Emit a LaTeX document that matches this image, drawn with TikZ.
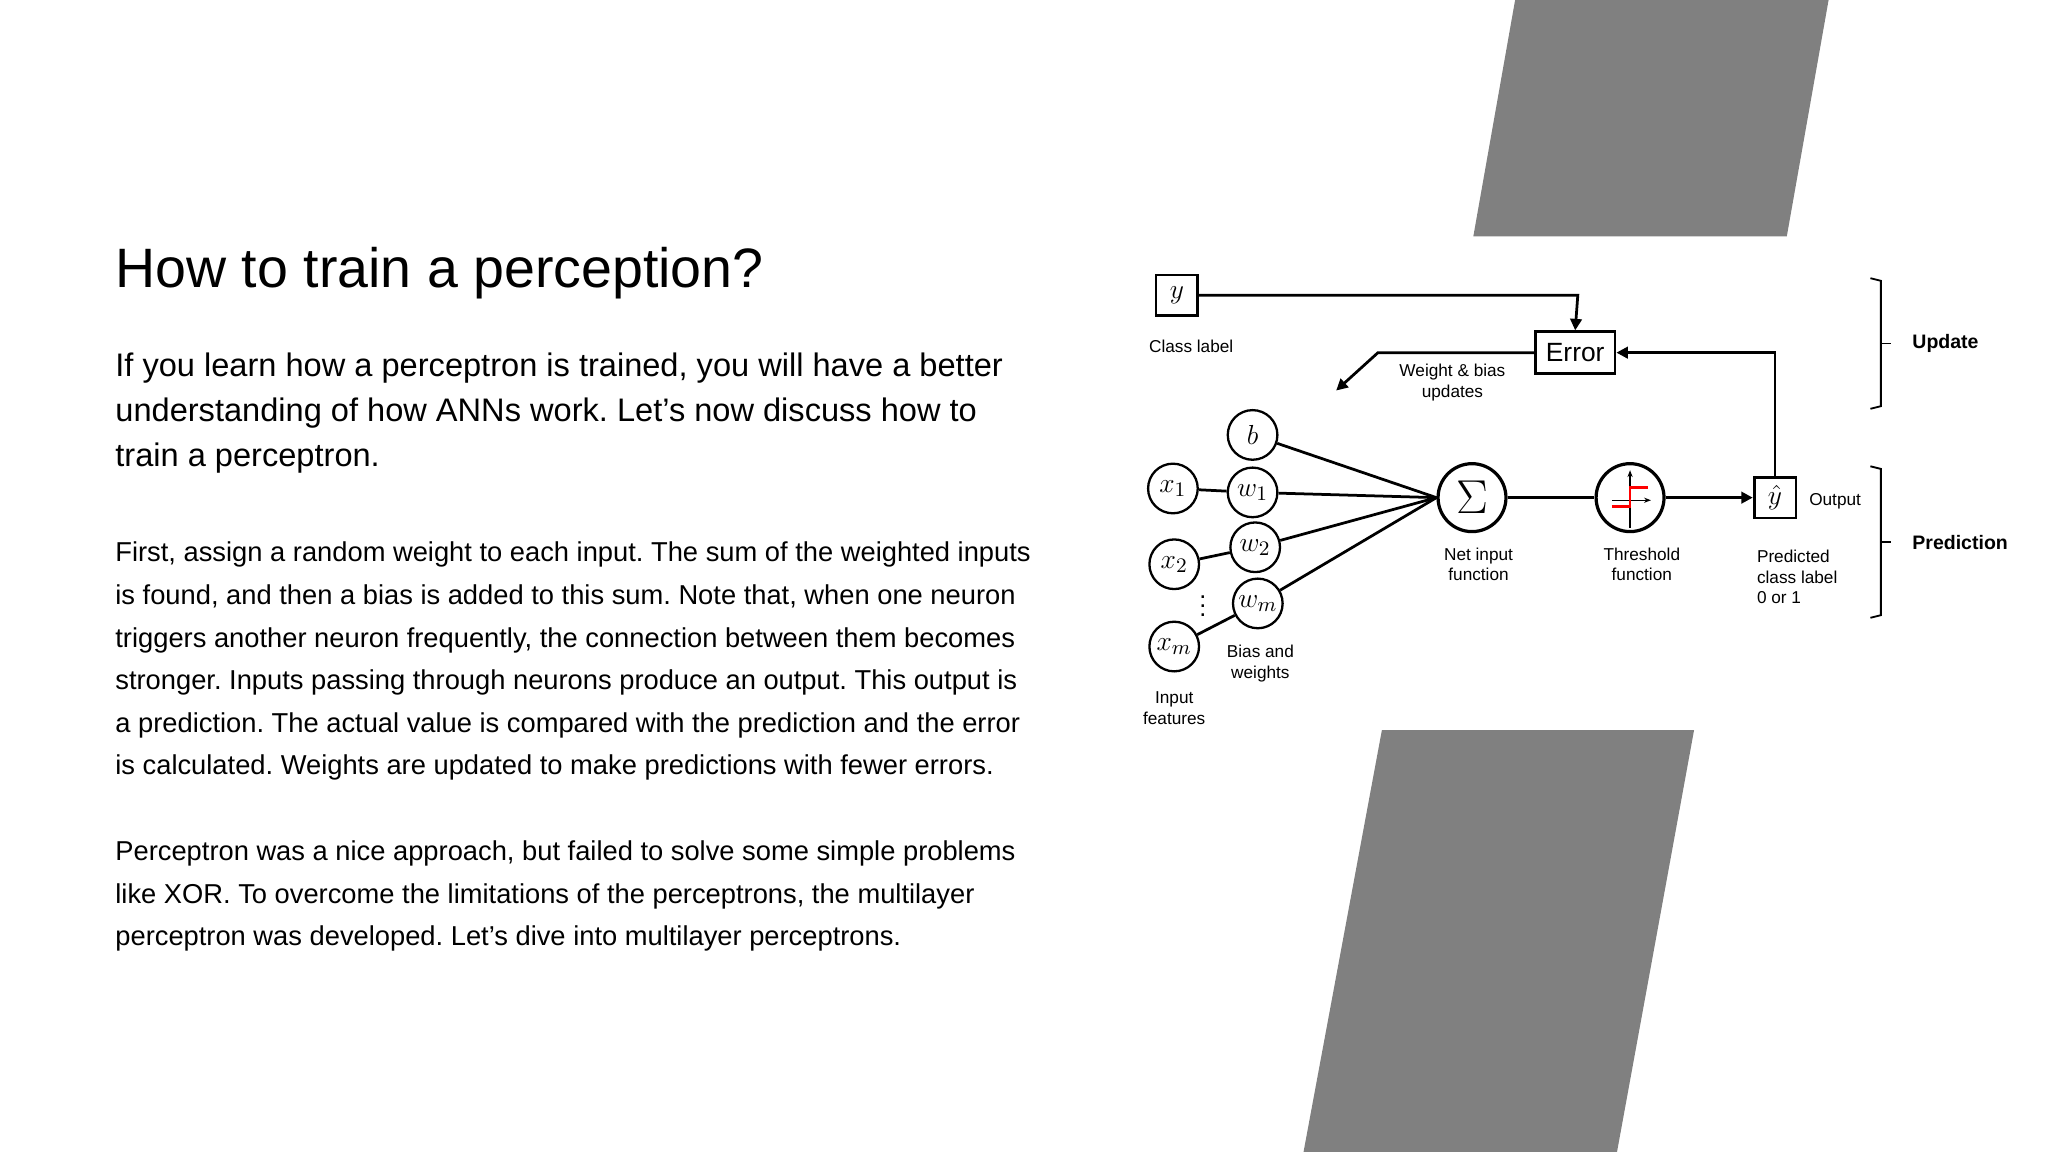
\documentclass[tikz,border=0pt]{standalone}
\usepackage{fontspec}
\setmainfont{Liberation Sans}
\frenchspacing
\usetikzlibrary{arrows.meta}
\begin{document}
\begin{tikzpicture}[x=0.02cm,y=-0.02cm,
  nd/.style={circle,draw,line width=1pt,minimum size=38*0.02cm,inner sep=0pt,font=\fontsize{13}{13}\selectfont},
  bx/.style={rectangle,draw,line width=1.2pt,inner sep=0pt},
  lab/.style={font=\fontsize{7.5}{9}\selectfont,align=center},
  ln/.style={line width=1.2pt},
  ar/.style={line width=1.2pt,-{Triangle[length=5pt,width=5pt]}},
  tx/.style={anchor=base west,inner sep=0pt},
  brc/.style={line width=0.8pt}]
\useasboundingbox (0,0) rectangle (1568,882);
\fill[fill=black!50] (1160,0) -- (1400,0) -- (1368,181) -- (1128,181) -- cycle;
\fill[fill=black!50] (1058,559) -- (1297,559) -- (1238,882) -- (998,882) -- cycle;
% text
\node[tx,font=\fontsize{24.2}{24}\selectfont] (title) at (88,220) {How to train a perception?};
\begin{scope}[every node/.style={tx,font=\fontsize{14.2}{14}\selectfont}]
\node (p1a) at (88,288) {If you learn how a perceptron is trained, you will have a better};
\node (p1b) at (88,323) {understanding of how ANNs work. Let’s now discuss how to};
\node (p1c) at (88,357) {train a perceptron.};
\end{scope}
\begin{scope}[every node/.style={tx,font=\fontsize{11.9}{12}\selectfont}]
\node (q1) at (88,430) {First, assign a random weight to each input. The sum of the weighted inputs};
\node (q2) at (88,463) {is found, and then a bias is added to this sum. Note that, when one neuron};
\node (q3) at (88,496) {triggers another neuron frequently, the connection between them becomes};
\node (q4) at (88,528) {stronger. Inputs passing through neurons produce an output. This output is};
\node (q5) at (88,561) {a prediction. The actual value is compared with the prediction and the error};
\node (q6) at (88,593) {is calculated. Weights are updated to make predictions with fewer errors.};
\node (r1) at (88,659) {Perceptron was a nice approach, but failed to solve some simple problems};
\node (r2) at (88,692) {like XOR. To overcome the limitations of the perceptrons, the multilayer};
\node (r3) at (88,724) {perceptron was developed. Let’s dive into multilayer perceptrons.};
\end{scope}
% diagram
\node[bx,minimum width=32*0.02cm,minimum height=31*0.02cm,font=\fontsize{13}{13}\selectfont] (y) at (901,226) {$y$};
\node[lab,anchor=north] (cl) at (912,254) {Class label};
\node[bx,minimum width=61*0.02cm,minimum height=32*0.02cm,font=\fontsize{11.5}{12}\selectfont] (err) at (1206,270) {Error};
\node[bx,minimum width=32*0.02cm,minimum height=31*0.02cm,font=\fontsize{13}{13}\selectfont] (yh) at (1359,381) {$\hat{y}$};
\node[lab,anchor=west] (out) at (1379,384) {Output};
\node[lab] (wb) at (1112,293) {Weight \& bias\\updates};
\coordinate (c1) at (1208,226);
\coordinate (c2) at (1359,270);
\coordinate (c3) at (1055,270);
\coordinate (c4) at (1023,299);
\draw[ar] (y.east) -- (c1) -- (err.north);
\draw[ar] (yh.north) -- (c2) -- (err.east);
\draw[ar] (err.west) -- (c3) -- (c4);
\node[nd] (b) at (959,333) {$b$};
\node[nd] (x1) at (898,374) {$x_1$};
\node[nd] (w1) at (959,377) {$w_1$};
\node[nd] (x2) at (899,432) {$x_2$};
\node[nd] (w2) at (961,419) {$w_2$};
\node[nd] (xm) at (899,495) {$x_m$};
\node[nd] (wm) at (963,462) {$w_m$};
\node[font=\fontsize{11}{11}\selectfont,inner sep=0pt] (dots) at (921,459) {$\vdots$};
\node[nd,minimum size=52*0.02cm,line width=1.4pt,font=\fontsize{20}{20}\selectfont] (sig) at (1127,381) {$\Sigma$};
\node[nd,minimum size=52*0.02cm,line width=1.4pt] (th) at (1248,381) {};
\draw[-{Stealth[length=3pt]},line width=0.5pt] (1248,404) -- (1248,360);
\draw[-{Stealth[length=3pt]},line width=0.5pt] (1234,383) -- (1264,383);
\draw[red,line width=1.2pt] (1234,388) -- (1248,388) -- (1248,373) -- (1262,373);
\foreach \a/\b in {x1/w1,x2/w2,xm/wm} \draw[ln] (\a) -- (\b);
\foreach \a in {b,w1,w2,wm} \draw[ln] (\a) -- (sig.west);
\draw[ln] (sig) -- (th);
\draw[ar] (th) -- (yh);
\node[lab] (ni) at (1132,432) {Net input\\function};
\node[lab] (tf) at (1257,432) {Threshold\\function};
\node[lab,align=left,anchor=north west] (pc) at (1339,415) {Predicted\\class label\\0 or 1};
\node[lab] (bw) at (965,508) {Bias and\\weights};
\node[lab] (inf) at (899,542) {Input\\features};
\draw[brc] (1432,213) -- (1440,215) -- (1440,311) -- (1432,313);
\draw[brc] (1440,263) -- (1448,263);
\draw[brc] (1432,357) -- (1440,359) -- (1440,471) -- (1432,473);
\draw[brc] (1440,415) -- (1448,415);
\node[lab,anchor=west,font=\bfseries\fontsize{8.5}{9}\selectfont] (up) at (1458,263) {Update};
\node[lab,anchor=west,font=\bfseries\fontsize{8.5}{9}\selectfont] (pr) at (1458,415) {Prediction};
\end{tikzpicture}
\end{document}
